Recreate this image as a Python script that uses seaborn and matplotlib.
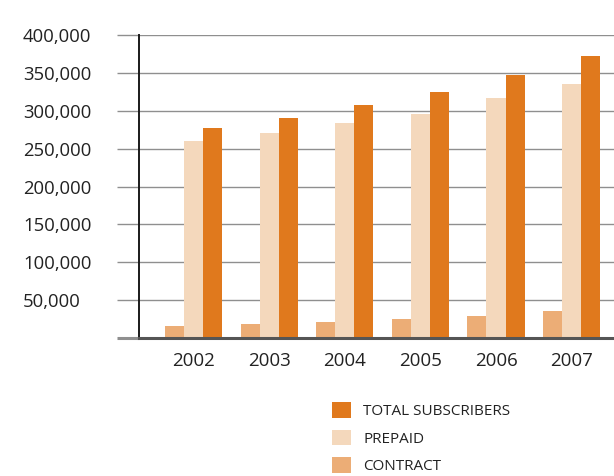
import matplotlib
matplotlib.use("Agg")
import matplotlib.pyplot as plt
import seaborn as sns
import pandas as pd

years = ["2002", "2003", "2004", "2005", "2006", "2007"]
contract = [16000, 19000, 21500, 24500, 29500, 36000]
prepaid = [260000, 270500, 283500, 295500, 316500, 335000]
total = [277000, 290000, 307000, 324500, 347000, 372000]
series_names = ["CONTRACT", "PREPAID", "TOTAL SUBSCRIBERS"]
colors = ["#ECAD76", "#F4D8BC", "#E0791D"]
y_ticks = [0, 50000, 100000, 150000, 200000, 250000, 300000, 350000, 400000]

rows = []
for name, vals in zip(series_names, [contract, prepaid, total]):
    for y, v in zip(years, vals):
        rows.append({"year": y, "series": name, "value": v})
df = pd.DataFrame(rows)

sns.set_theme(style="white")
plt.rcParams["font.family"] = ["Open Sans", "DejaVu Sans"]

fig = plt.figure(figsize=(6.14, 4.76), dpi=100)
ax = fig.add_axes([139 / 614, 1 - 338 / 476, 1 - 139 / 614, (338 - 35) / 476])

sns.barplot(data=df, x="year", y="value", hue="series", hue_order=series_names,
            order=years, palette=colors, width=0.755, saturation=1,
            errorbar=None, ax=ax, zorder=3, legend=True, linewidth=0)

ax.set_xlim(-0.72, 5.56)
ax.set_ylim(0, 400000)
ax.set_xlabel("")
ax.set_ylabel("")

for s in ["top", "right"]:
    ax.spines[s].set_visible(False)
ax.spines["left"].set_color("#1a1a1a")
ax.spines["left"].set_linewidth(1.4)
ax.spines["left"].set_zorder(5)
ax.spines["bottom"].set_color("#555555")
ax.spines["bottom"].set_linewidth(2.2)
ax.spines["bottom"].set_zorder(5)

ax.set_yticks(y_ticks)
ax.set_yticklabels(["" if v == 0 else f"{v:,}" for v in y_ticks])
ax.yaxis.grid(True, color="#8f8f8f", linewidth=1.0, zorder=0)
ax.set_axisbelow(True)
ax.tick_params(axis="y", which="major", length=15.8, width=1.0, color="#8f8f8f",
               direction="out", pad=67.7, labelsize=13.3, labelcolor="#222222", left=True)
for lbl in ax.get_yticklabels():
    lbl.set_horizontalalignment("left")
t0 = ax.yaxis.get_major_ticks()[0]
t0.tick1line.set_color("#555555")
t0.tick1line.set_markeredgewidth(2.2)

ax.tick_params(axis="x", length=0, pad=10, labelsize=13.5, labelcolor="#222222")

# legend
handles, labels = ax.get_legend_handles_labels()
ax.get_legend().remove()
order = [2, 1, 0]
fig.legend([handles[i] for i in order], [labels[i] for i in order],
           loc="upper left", bbox_to_anchor=(332 / 614, 1 - 402 / 476),
           frameon=False, fontsize=11, handlelength=1.23, handleheight=1.23,
           handletextpad=0.8, labelspacing=0.68, borderpad=0, borderaxespad=0,
           labelcolor="#222222")

fig.savefig("out.png", dpi=100)
